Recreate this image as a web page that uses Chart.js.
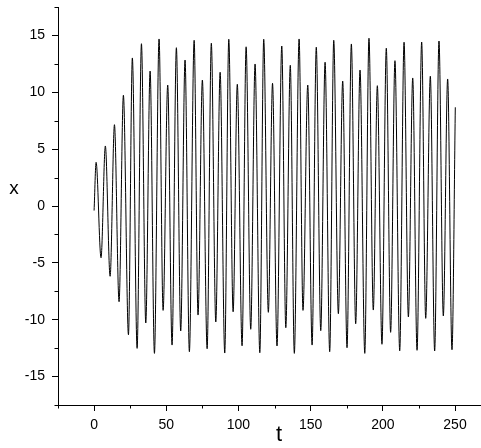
<!DOCTYPE html>
<html>
<head>
<meta charset="utf-8">
<script src="https://cdn.jsdelivr.net/npm/chart.js@4/dist/chart.umd.min.js"></script>
<style>
html,body{margin:0;padding:0;background:#fff;}
#c{display:block;}
</style>
</head>
<body>
<canvas id="c" width="481" height="448"></canvas>
<script>
// ---- data ----
const startT = 0, startX = -0.4;
const peakT = [1.4, 7.8, 14.1, 20.3, 26.5, 32.8, 38.8, 45.0, 51.0, 57.0, 63.0, 69.3, 75.0, 81.2, 87.3, 93.3, 99.2, 105.3, 111.5, 117.5, 123.6, 130.0, 135.9, 142.0, 148.0, 153.9, 160.0, 166.0, 172.2, 178.2, 184.2, 190.4, 196.2, 202.4, 208.4, 214.7, 220.7, 226.9, 232.9, 238.9, 244.9];
const peakX = [3.84, 5.28, 7.15, 9.74, 13.02, 14.27, 11.87, 14.69, 10.64, 13.92, 12.84, 14.57, 11.08, 14.31, 11.76, 14.66, 10.70, 14.0, 12.49, 14.66, 10.79, 14.07, 12.37, 14.69, 10.64, 13.96, 12.64, 14.57, 10.99, 14.25, 11.96, 14.75, 10.58, 13.87, 12.78, 14.40, 11.26, 14.42, 11.41, 14.51, 11.17];
const troughT = [4.8, 11.1, 17.3, 23.8, 29.8, 35.8, 41.8, 47.8, 54.0, 60.0, 66.0, 72.0, 78.3, 84.3, 90.5, 96.3, 102.5, 108.5, 114.8, 120.7, 126.7, 132.8, 138.7, 144.7, 151.0, 157.0, 163.2, 169.2, 175.2, 181.2, 187.5, 193.4, 199.4, 205.4, 211.7, 217.7, 223.7, 229.7, 235.9, 241.9, 247.9];
const troughX = [-4.55, -6.18, -8.42, -11.32, -12.52, -10.29, -12.96, -9.18, -12.23, -10.99, -12.81, -9.59, -12.55, -10.20, -12.93, -9.30, -12.29, -10.84, -12.90, -9.35, -12.31, -10.70, -12.96, -9.18, -12.23, -10.96, -12.81, -9.47, -12.46, -10.35, -12.96, -9.15, -12.16, -11.11, -12.73, -9.76, -12.69, -9.88, -12.75, -9.67, -12.64];
const endT = 250.2, endX = 8.68;

const xTicks = [0, 50, 100, 150, 200, 250];
const xMinorTicks = [-25, 25, 75, 125, 175, 225];
const yTicks = [-15, -10, -5, 0, 5, 10, 15];
const yMinorTicks = [-17.5, -12.5, -7.5, -2.5, 2.5, 7.5, 12.5, 17.5];
const xTitle = 't';
const yTitle = 'x';

// build point list
const points = [{x: startT, y: startX}];
for (let i = 0; i < peakT.length; i++) {
  points.push({x: peakT[i], y: peakX[i]});
  points.push({x: troughT[i], y: troughX[i]});
}
points.push({x: endT, y: endX});

const FONT = '"Liberation Sans", Arial, sans-serif';

const extras = {
  id: 'extras',
  afterDraw(chart) {
    const ctx = chart.ctx;
    const xs = chart.scales.x, ys = chart.scales.y;
    const area = chart.chartArea;
    ctx.save();
    ctx.strokeStyle = '#000';
    ctx.lineWidth = 1;
    ctx.beginPath();
    xMinorTicks.forEach(v => {
      const px = Math.round(xs.getPixelForValue(v)) + 0.5;
      ctx.moveTo(px, area.bottom);
      ctx.lineTo(px, area.bottom + 3.5);
    });
    yMinorTicks.forEach(v => {
      const py = Math.round(ys.getPixelForValue(v)) + 0.5;
      ctx.moveTo(area.left - 3.5, py);
      ctx.lineTo(area.left, py);
    });
    ctx.stroke();
    ctx.fillStyle = '#000';
    ctx.textAlign = 'center';
    ctx.textBaseline = 'middle';
    ctx.font = '19px ' + FONT;
    ctx.fillText(yTitle, 14, 189);
    ctx.font = '22px ' + FONT;
    ctx.fillText(xTitle, 279, 435);
    ctx.restore();
  }
};

new Chart(document.getElementById('c'), {
  type: 'scatter',
  data: {
    datasets: [{
      data: points,
      showLine: true,
      borderColor: '#000',
      borderWidth: 1,
      pointRadius: 0,
      cubicInterpolationMode: 'monotone',
      fill: false
    }]
  },
  options: {
    responsive: false,
    animation: false,
    devicePixelRatio: 1,
    layout: {padding: {top: 7, left: 0, right: 0, bottom: 0}},
    plugins: {legend: {display: false}, tooltip: {enabled: false}},
    scales: {
      x: {
        type: 'linear',
        min: -25,
        max: 268,
        afterBuildTicks: s => { s.ticks = xTicks.map(v => ({value: v})); },
        afterFit: s => { s.height = 43; s.paddingLeft = 0; s.paddingRight = 0; },
        grid: {drawOnChartArea: false, drawTicks: true, tickLength: 6, color: '#000', tickColor: '#000'},
        border: {display: true, color: '#000', width: 1},
        ticks: {color: '#000', font: {family: FONT, size: 14}, padding: 6, maxRotation: 0, autoSkip: false}
      },
      y: {
        type: 'linear',
        min: -17.5,
        max: 17.5,
        afterBuildTicks: s => { s.ticks = yTicks.map(v => ({value: v})); },
        afterFit: s => { s.width = 58; s.paddingTop = 0; s.paddingBottom = 0; },
        grid: {drawOnChartArea: false, drawTicks: true, tickLength: 6, color: '#000', tickColor: '#000'},
        border: {display: true, color: '#000', width: 1},
        ticks: {color: '#000', font: {family: FONT, size: 14}, padding: 7, autoSkip: false}
      }
    }
  },
  plugins: [extras]
});
</script>
</body>
</html>
